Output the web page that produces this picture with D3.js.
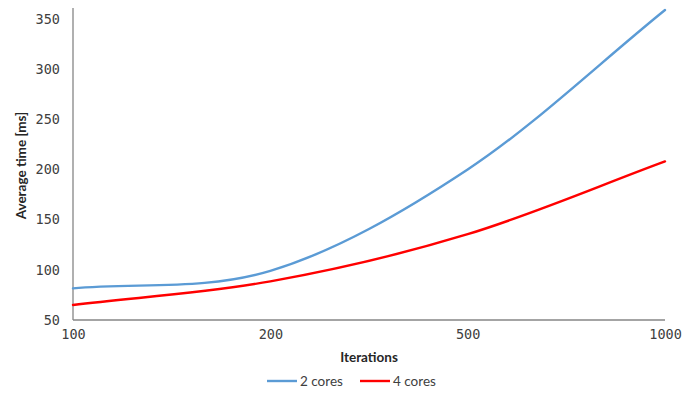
<!DOCTYPE html>
<html>
<head>
<meta charset="utf-8">
<script src="https://cdn.jsdelivr.net/npm/d3@7"></script>
<style>
  html, body { margin: 0; padding: 0; background: #fff; }
  svg { display: block; }
  .tick-label { font-family: "DejaVu Sans Mono", "Liberation Mono", monospace; font-size: 13.5px; fill: #404040; }
  .title { font-family: Lato, "Open Sans", sans-serif; font-weight: bold; font-size: 13.5px; fill: #262626; }
  .legend-text { font-family: Lato, "Open Sans", sans-serif; font-size: 13.5px; fill: #404040; }
</style>
</head>
<body>
<svg id="chart" width="697" height="393"></svg>
<script>
// Iteration counts (categorical, evenly spaced)
const iterations = ["100", "200", "500", "1000"];
// Average time in ms per series
const cores2 = [81.5, 99, 200, 359];
const cores4 = [65, 88.5, 135.5, 208];
const yTicks = [50, 100, 150, 200, 250, 300, 350];
const seriesNames = ["2 cores", "4 cores"];
const seriesColors = ["#5B9BD5", "#FF0000"];

// Smooth curve: cubic Bezier through every point, interior tangents from the
// neighbouring points, end tangents from the adjacent segment.
function SmoothCurve(context) { this._context = context; }
SmoothCurve.prototype = {
  areaStart() { this._line = 0; },
  areaEnd() { this._line = NaN; },
  lineStart() { this._pts = []; },
  point(px, py) { this._pts.push([+px, +py]); },
  lineEnd() {
    const p = this._pts, n = p.length, c = this._context;
    if (!n) return;
    c.moveTo(p[0][0], p[0][1]);
    if (n === 1) return;
    const m = p.map((q, i) => {
      if (i === 0) return [p[1][0] - p[0][0], p[1][1] - p[0][1]];
      if (i === n - 1) return [p[n - 1][0] - p[n - 2][0], p[n - 1][1] - p[n - 2][1]];
      return [(p[i + 1][0] - p[i - 1][0]) / 2, (p[i + 1][1] - p[i - 1][1]) / 2];
    });
    for (let i = 0; i < n - 1; i++) {
      c.bezierCurveTo(
        p[i][0] + m[i][0] / 3, p[i][1] + m[i][1] / 3,
        p[i + 1][0] - m[i + 1][0] / 3, p[i + 1][1] - m[i + 1][1] / 3,
        p[i + 1][0], p[i + 1][1]);
    }
  }
};
const curveSmooth = context => new SmoothCurve(context);

const svg = d3.select("#chart");
const margin = { left: 73, right: 32, top: 19, bottom: 73 };
const W = 697, H = 393;

const x = d3.scalePoint().domain(iterations).range([margin.left, W - margin.right]);
const y = d3.scaleLinear().domain([50, 350]).range([H - margin.bottom, margin.top]);

// axes
const xAxis = svg.append("g")
  .attr("transform", `translate(0,${y(50)})`)
  .call(d3.axisBottom(x).tickSize(0).tickPadding(9));
xAxis.select(".domain").attr("stroke", "#868686").attr("stroke-width", 1.3)
  .attr("d", `M${x.range()[0]},0H${x.range()[1]}`);
xAxis.selectAll("text").attr("class", "tick-label").attr("fill", null);

const yAxis = svg.append("g")
  .attr("transform", `translate(${margin.left},0)`)
  .call(d3.axisLeft(y).tickValues(yTicks).tickSize(0).tickPadding(13));
yAxis.select(".domain").attr("stroke", "#868686").attr("stroke-width", 1.3)
  .attr("d", `M0,${y(350) - 11}V${y(50)}`);
yAxis.selectAll("text").attr("class", "tick-label").attr("fill", null);

// axis titles
svg.append("text").attr("class", "title")
  .attr("x", (x.range()[0] + x.range()[1]) / 2).attr("y", 362)
  .attr("text-anchor", "middle").text("Iterations");
svg.append("text").attr("class", "title")
  .attr("transform", `translate(26,${(y(50) + y(350)) / 2 - 4}) rotate(-90)`)
  .attr("text-anchor", "middle").text("Average time [ms]");

// series lines
const line = d3.line()
  .x((d, i) => x(iterations[i]))
  .y(d => y(d))
  .curve(curveSmooth);

[cores2, cores4].forEach((vals, k) => {
  svg.append("path").datum(vals)
    .attr("fill", "none")
    .attr("stroke", seriesColors[k])
    .attr("stroke-width", 2.4)
    .attr("stroke-linecap", "round")
    .attr("d", line);
});

// legend
const legendX = [267, 360];
seriesNames.forEach((name, k) => {
  const g = svg.append("g").attr("transform", `translate(${legendX[k]},381)`);
  g.append("line").attr("x1", 0).attr("x2", 30).attr("y1", 0).attr("y2", 0)
    .attr("stroke", seriesColors[k]).attr("stroke-width", 2.4);
  g.append("text").attr("class", "legend-text").attr("x", 33).attr("y", 5).text(name);
});
</script>
</body>
</html>
